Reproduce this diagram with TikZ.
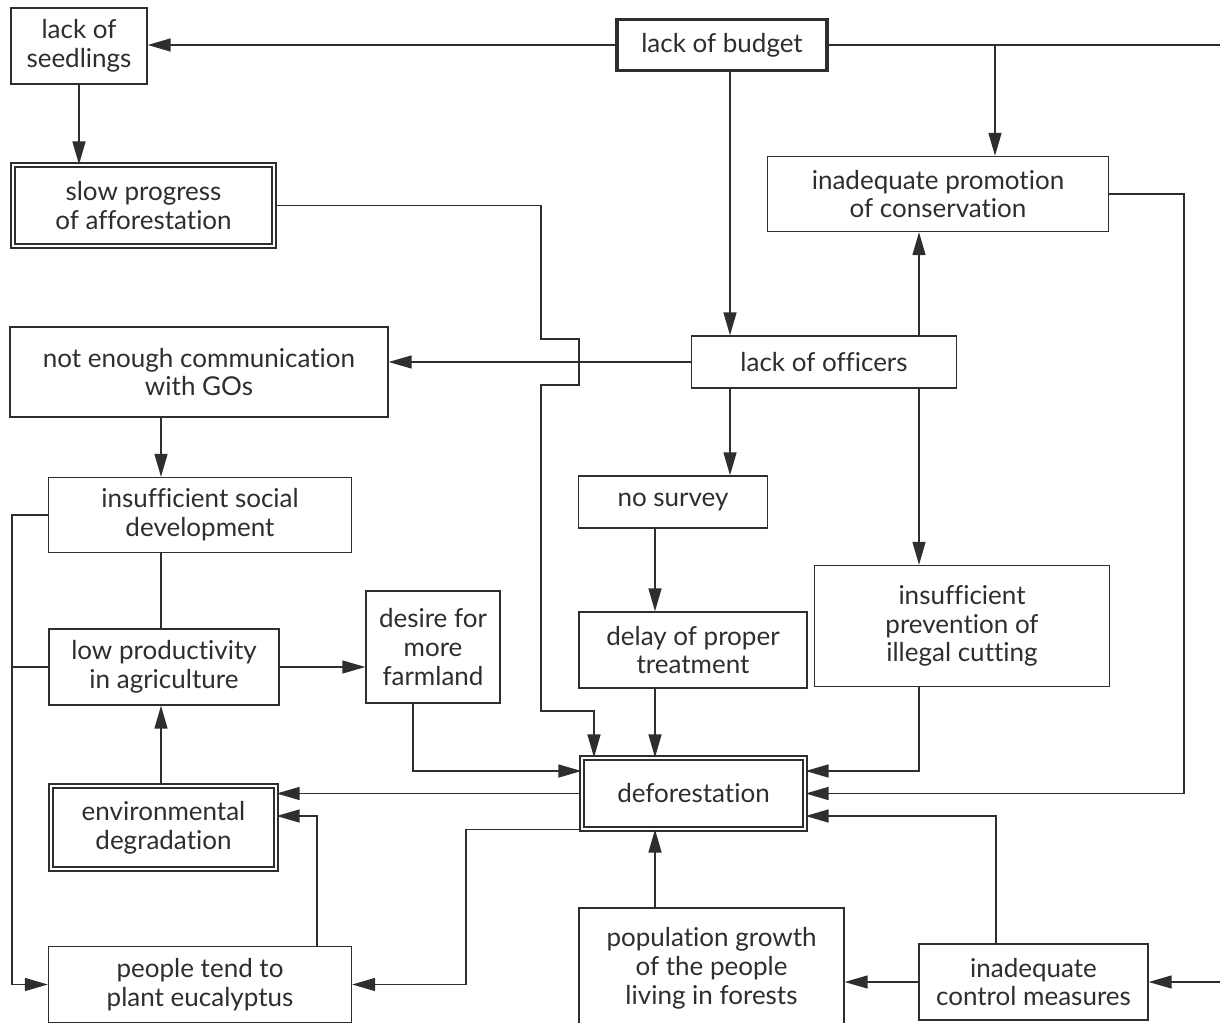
\documentclass[tikz,border=0pt]{standalone}
\usepackage{fontspec}
\setmainfont{Lato}[Ligatures=NoCommon]
\usetikzlibrary{arrows.meta}
\definecolor{ink}{HTML}{2E2E2E}
\begin{document}
\begin{tikzpicture}[x=0.02cm,y=-0.02cm,
  box/.style={draw=ink, line width=0.8pt, rectangle, inner sep=0pt, align=center,
    text=ink, font=\fontsize{14.8}{16.4}\selectfont},
  keybox/.style={box, line width=1.9pt},
  dbox/.style={box, double=white, double distance=1.6pt, line width=0.7pt},
  link/.style={draw=ink, line width=0.8pt},
  arr/.style={link, -{Triangle[length=0.46cm,width=0.26cm]}},
]
\useasboundingbox[fill=white] (0,0) rectangle (1220,1023);

% causes and effects
\node[box, minimum width=2.72cm, minimum height=1.52cm] (seed) at (79,46) {lack of\\seedlings};
\node[keybox, minimum width=4.2cm, minimum height=1.02cm] (budget) at (722,45) {lack of budget};
\node[dbox, minimum width=5.22cm, minimum height=1.62cm] (slow) at (143.5,205.5) {slow progress\\of afforestation};
\node[box, minimum width=6.82cm, minimum height=1.5cm] (promo) at (938,194) {inadequate promotion\\of conservation};
\node[box, minimum width=7.56cm, minimum height=1.8cm] (comm) at (199,372) {not enough communication\\with GOs};
\node[box, minimum width=5.3cm, minimum height=1.04cm] (officers) at (824,362) {lack of officers};
\node[box, minimum width=6.06cm, minimum height=1.5cm] (social) at (200,515) {insufficient social\\development};
\node[box, minimum width=3.78cm, minimum height=1.04cm] (survey) at (673,502) {no survey};
\node[box, minimum width=2.68cm, minimum height=2.24cm] (desire) at (433,647) {desire for\\more\\farmland};
\node[box, minimum width=4.6cm, minimum height=1.52cm] (lowprod) at (164,667) {low productivity\\in agriculture};
\node[box, minimum width=4.56cm, minimum height=1.52cm] (delay) at (693,650) {delay of proper\\treatment};
\node[box, minimum width=5.9cm, minimum height=2.42cm] (prevent) at (962,626) {insufficient\\prevention of\\illegal cutting};
\node[dbox, minimum width=4.5cm, minimum height=1.66cm] (envdeg) at (163.5,827.5) {environmental\\degradation};
\node[dbox, minimum width=4.46cm, minimum height=1.42cm] (defor) at (693.5,793.5) {deforestation};
\node[box, minimum width=6.06cm, minimum height=1.52cm] (euc) at (200,984.5) {people tend to\\plant eucalyptus};
\node[box, minimum width=5.3cm, minimum height=2.4cm] (pop) at (711.5,968) {population growth\\of the people\\living in forests};
\node[box, minimum width=4.58cm, minimum height=1.52cm] (control) at (1033.5,982) {inadequate\\control measures};

% routing columns and rows
\coordinate (edgeT) at (1220,45);
\coordinate (edgeB) at (1220,982);
\coordinate (xA) at (995,0);
\coordinate (xB) at (730,0);
\coordinate (xC) at (919,0);
\coordinate (xD) at (655,0);
\coordinate (xE) at (161,0);
\coordinate (xF) at (996,0);
\coordinate (xG) at (594,0);
\coordinate (xH) at (413,0);
\coordinate (xI) at (317,0);
\coordinate (xJ) at (466,0);
\coordinate (yA) at (0,771);
\coordinate (yB) at (0,816);

% lack of budget
\draw[arr] (budget.west) -- (budget.west -| seed.east);
\draw[link] (budget.east) -- (edgeT);
\draw[arr] (edgeT -| xA) -- (promo.north -| xA);
\draw[arr] (budget.south -| xB) -- (officers.north -| xB);
\draw[arr] (seed.south) -- (slow.north -| seed.south);

% slow progress of afforestation, bridged over the officers line
\draw[arr] (slow.east) -- (541,205.5) -- (541,339) -- (579,339) -- (579,385) -- (541,385)
  -- (541,711) -- (594,711) -- (defor.north -| xG);

% lack of officers
\draw[arr] (officers.west) -- (comm.east |- officers.west);
\draw[arr] (officers.south -| xB) -- (survey.north -| xB);
\draw[arr] (officers.north -| xC) -- (promo.south -| xC);
\draw[arr] (officers.south -| xC) -- (prevent.north -| xC);
\draw[arr] (survey.south -| xD) -- (delay.north -| xD);
\draw[arr] (delay.south -| xD) -- (defor.north -| xD);
\draw[arr] (pop.north -| xD) -- (defor.south -| xD);

% into deforestation from the right
\draw[arr] (prevent.south -| xC) |- (defor.east |- yA);
\draw[arr] (promo.east) -- (1184,194) -- (1184,793.5) -- (defor.east);
\draw[arr] (control.north -| xF) |- (defor.east |- yB);
\draw[arr] (control.west) -- (pop.east |- control.west);
\draw[arr] (edgeB) -- (control.east);

% left-hand chain
\draw[arr] (comm.south -| xE) -- (social.north -| xE);
\draw[link] (social.south -| xE) -- (lowprod.north -| xE);
\draw[arr] (envdeg.north -| xE) -- (lowprod.south -| xE);
\draw[arr] (social.west) -- (12,515) |- (euc.west);
\draw[link] (12,667) -- (lowprod.west);
\draw[arr] (lowprod.east) -- (desire.west |- lowprod.east);
\draw[arr] (desire.south -| xH) |- (defor.west |- yA);
\draw[arr] (defor.west) -- (envdeg.east |- defor.west);
\draw[arr] (euc.north -| xI) |- (envdeg.east |- yB);
\draw[arr] (defor.south west) -- (defor.south west -| xJ) |- (euc.east);
\end{tikzpicture}
\end{document}
